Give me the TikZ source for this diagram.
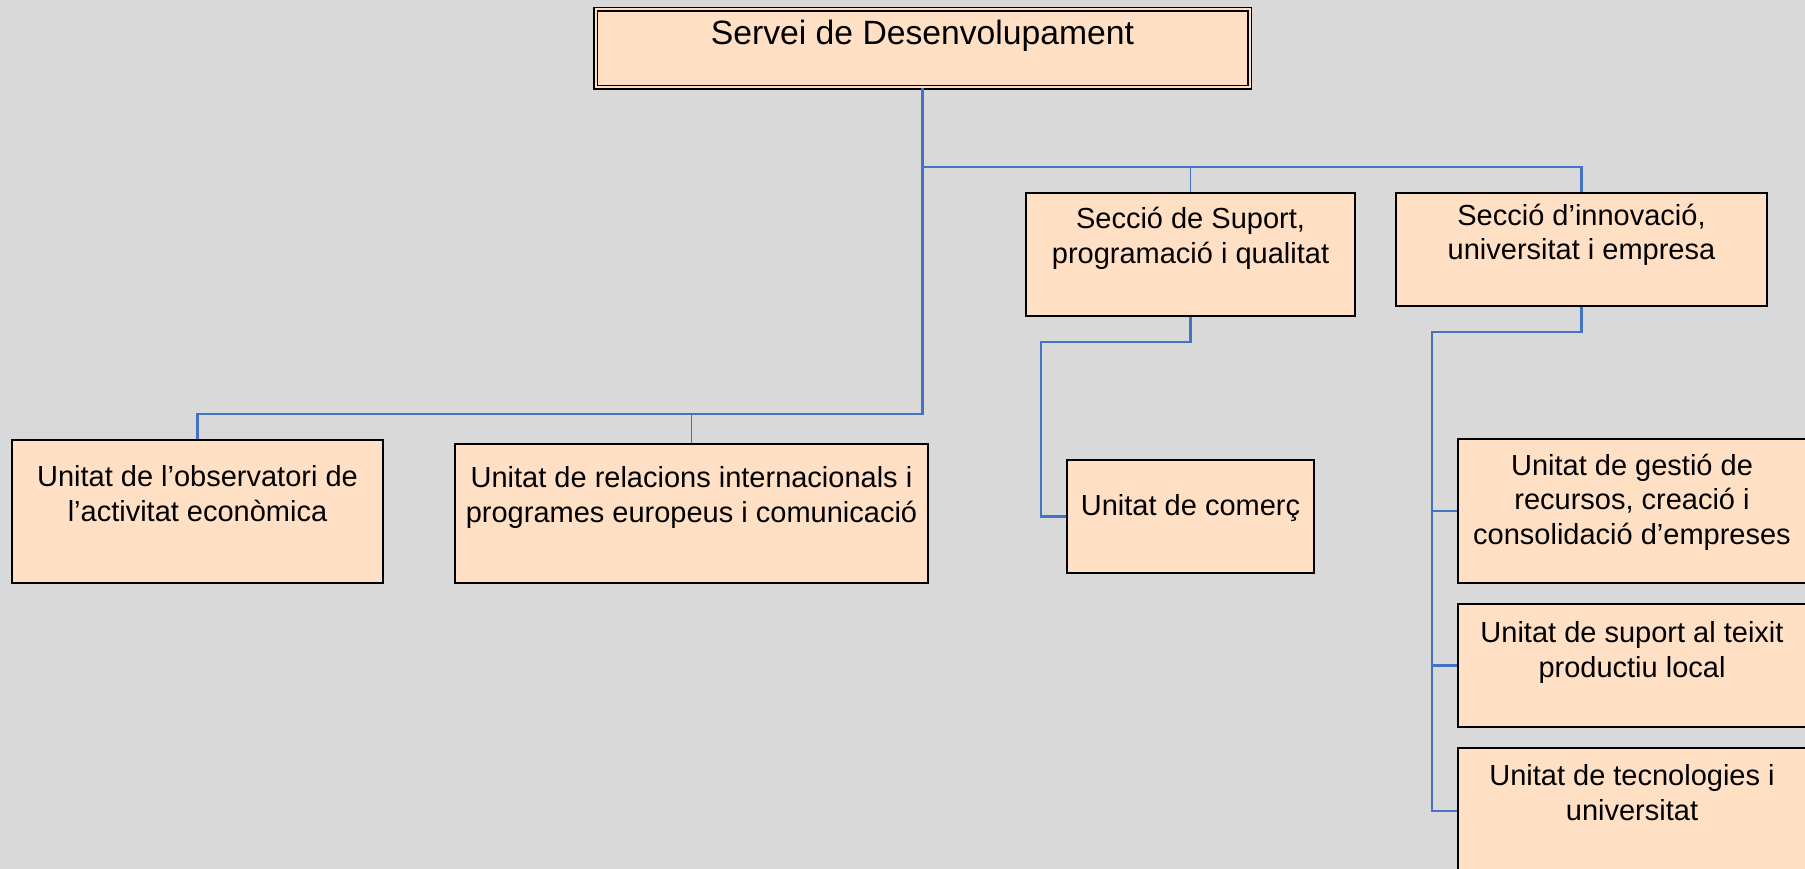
\documentclass[tikz,border=0pt]{standalone}
\usepackage{fontspec}
\setmainfont{Liberation Sans}
\definecolor{bg}{RGB}{217,217,217}
\definecolor{peach}{RGB}{255,224,196}
\definecolor{lnk}{RGB}{68,114,196}
\begin{document}
\begin{tikzpicture}[x=1pt,y=-1pt,
  box/.style={draw=black, line width=2pt, fill=peach, rectangle, inner sep=0pt},
  topbox/.style={draw=black, line width=1.6pt, double=peach, double distance=2pt, fill=peach, rectangle, inner sep=0pt},
  lbl/.style={font=\fontsize{29}{34.5}\selectfont, align=center, anchor=base, inner sep=0pt},
  toplbl/.style={font=\fontsize{33.7}{40}\selectfont, align=center, anchor=base, inner sep=0pt},
  conn/.style={draw=lnk, line width=2.2pt},
  thinconn/.style={draw=lnk, line width=1.5pt}]
\useasboundingbox (0,0) rectangle (1805,869);
\fill[bg] (0,0) rectangle (1805,869);

% boxes
\node[topbox, minimum width=654pt, minimum height=78pt] (top) at (922.5,48.5) {};
\node[box, minimum width=371pt, minimum height=143pt] (obs) at (197.5,511.5) {};
\node[box, minimum width=473pt, minimum height=139pt] (rel) at (691.5,513.5) {};
\node[box, minimum width=329pt, minimum height=123pt] (sup) at (1190.5,254.5) {};
\node[box, minimum width=371pt, minimum height=113pt] (inn) at (1581.5,249.5) {};
\node[box, minimum width=247pt, minimum height=113pt] (com) at (1190.5,516.5) {};
\node[box, minimum width=350pt, minimum height=144pt] (ges) at (1633,511) {};
\node[box, minimum width=350pt, minimum height=123pt] (tei) at (1633,665.5) {};
\node[box, minimum width=350pt, minimum height=126pt] (tec) at (1633,811) {};

% texts (anchor base = baseline of the last line)
\node[toplbl] (topt) at (922.5,45) {Servei de Desenvolupament};
\node[lbl] (obst) at (197.5,521) {Unitat de l’observatori de\\l’activitat econòmica};
\node[lbl] (relt) at (691.5,522) {Unitat de relacions internacionals i\\programes europeus i comunicació};
\node[lbl] (supt) at (1190.5,263) {Secció de Suport,\\programació i qualitat};
\node[lbl] (innt) at (1581.5,260) {Secció d’innovació,\\universitat i empresa};
\node[lbl] (comt) at (1190.5,515) {Unitat de comerç};
\node[lbl] (gest) at (1632,544) {Unitat de gestió de\\recursos, creació i\\consolidació d’empreses};
\node[lbl] (teit) at (1632,677) {Unitat de suport al teixit\\productiu local};
\node[lbl] (tect) at (1632,820) {Unitat de tecnologies i\\universitat};

% connectors
\coordinate (hR) at (922.5,167);
\coordinate (hL) at (922.5,414);
\coordinate (cK) at (1041,342);
\coordinate (iK) at (1432,332);
\draw[conn] (top.south) -- (hL) -| (obs.north);
\draw[thinconn] (rel.north) -- (rel.north |- hL);
\draw[conn] (hR) -| (inn.north);
\draw[thinconn] (sup.north) -- (sup.north |- hR);
\draw[conn] (sup.south) |- (cK) |- (com.west);
\draw[conn] (inn.south) |- (iK) |- (tec.west);
\draw[conn] (iK |- ges.west) -- (ges.west);
\draw[conn] (iK |- tei.west) -- (tei.west);
\end{tikzpicture}
\end{document}
